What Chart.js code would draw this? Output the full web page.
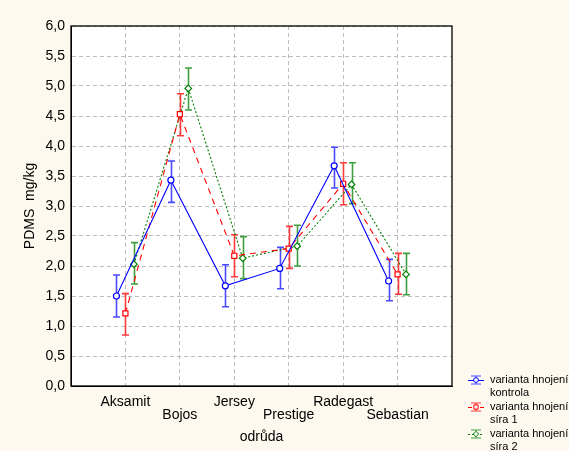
<!DOCTYPE html>
<html>
<head>
<meta charset="utf-8">
<script src="https://cdn.jsdelivr.net/npm/chart.js@4/dist/chart.umd.min.js"></script>
<style>
  html, body { margin: 0; padding: 0; background: #fdf9ee; }
  #wrap { width: 569px; height: 451px; }
</style>
</head>
<body>
<div id="wrap"><canvas id="chart" width="569" height="451"></canvas></div>
<script>
// Varieties (odrůda) on the x axis
const varieties = ['Aksamit', 'Bojos', 'Jersey', 'Prestige', 'Radegast', 'Sebastian'];

// Fertilisation variants
const seriesNames = ['varianta hnojení kontrola', 'varianta hnojení síra 1', 'varianta hnojení síra 2'];

// PDMS mg/kg – means with lower / upper interval bounds
const kontrolaMean = [1.50, 3.43, 1.67, 1.96, 3.67, 1.75];
const kontrolaLow  = [1.15, 3.06, 1.32, 1.62, 3.30, 1.42];
const kontrolaHigh = [1.85, 3.75, 2.02, 2.31, 3.98, 2.11];

const sira1Mean = [1.21, 4.53, 2.17, 2.29, 3.37, 1.86];
const sira1Low  = [0.85, 4.17, 1.82, 1.96, 3.02, 1.53];
const sira1High = [1.54, 4.87, 2.52, 2.66, 3.72, 2.21];

const sira2Mean = [2.03, 4.96, 2.13, 2.33, 3.36, 1.86];
const sira2Low  = [1.70, 4.60, 1.79, 2.00, 3.04, 1.52];
const sira2High = [2.39, 5.30, 2.49, 2.68, 3.72, 2.21];

// y axis ticks
const yMin = 0, yMax = 6, yStep = 0.5;

// horizontal shift of each variant around the category position
const shifts = [-0.165, 0, 0.155];

const FONT = '"Liberation Sans", Arial, sans-serif';

const styles = [
  { line: '#0000ff', bar: '#4a4aff', dash: [], point: 'circle', radius: 3 },
  { line: '#ff0000', bar: '#ff3a3a', dash: [6, 5], point: 'rect', radius: 3.6 },
  { line: '#008000', bar: '#3f9f3f', dash: [2, 2], point: 'rectRot', radius: 3.3 }
];

const means = [kontrolaMean, sira1Mean, sira2Mean];
const lows = [kontrolaLow, sira1Low, sira2Low];
const highs = [kontrolaHigh, sira1High, sira2High];

function toPoints(values, shift) {
  return values.map((v, i) => ({ x: i + 1 + shift, y: v }));
}

const datasets = means.map((m, k) => ({
  label: seriesNames[k],
  data: toPoints(m, shifts[k]),
  borderColor: styles[k].line,
  borderWidth: 1.1,
  borderDash: styles[k].dash,
  pointStyle: styles[k].point,
  pointRadius: styles[k].radius,
  pointBorderWidth: 1.2,
  pointBorderColor: styles[k].line,
  pointBackgroundColor: '#ffffff',
  fill: false,
  tension: 0
}));

// background, plot frame, error bars and legend
const decor = {
  id: 'decor',
  beforeDraw(chart) {
    const { ctx, chartArea: a } = chart;
    ctx.save();
    ctx.fillStyle = '#fdf9ee';
    ctx.fillRect(0, 0, chart.width, chart.height);
    ctx.fillStyle = '#ffffff';
    ctx.fillRect(a.left, a.top, a.right - a.left, a.bottom - a.top);
    ctx.restore();
  },
  beforeDatasetsDraw(chart) {
    const { ctx, scales: { x, y } } = chart;
    ctx.save();
    ctx.lineWidth = 1.6;
    ctx.setLineDash([]);
    for (let k = 0; k < means.length; k++) {
      ctx.strokeStyle = styles[k].bar;
      for (let i = 0; i < varieties.length; i++) {
        const px = Math.round(x.getPixelForValue(i + 1 + shifts[k])) + 0.5;
        const yLo = y.getPixelForValue(lows[k][i]);
        const yHi = y.getPixelForValue(highs[k][i]);
        ctx.beginPath();
        ctx.moveTo(px, yLo); ctx.lineTo(px, yHi);
        ctx.moveTo(px - 3.5, yLo); ctx.lineTo(px + 3.5, yLo);
        ctx.moveTo(px - 3.5, yHi); ctx.lineTo(px + 3.5, yHi);
        ctx.stroke();
      }
    }
    ctx.restore();
  },
  afterDraw(chart) {
    const { ctx, chartArea: a } = chart;
    ctx.save();
    ctx.strokeStyle = '#000000';
    ctx.lineWidth = 1.3;
    ctx.setLineDash([]);
    ctx.strokeRect(a.left, a.top, a.right - a.left, a.bottom - a.top);

    // legend
    const lx = 468, lw = 16, tx = 490;
    const rows = [380, 407, 434];
    const sub = ['kontrola', 'síra 1', 'síra 2'];
    ctx.font = '11px ' + FONT;
    ctx.textBaseline = 'middle';
    ctx.textAlign = 'left';
    for (let k = 0; k < 3; k++) {
      const cy = rows[k];
      const cx = lx + lw / 2;
      ctx.strokeStyle = styles[k].line;
      ctx.lineWidth = 1;
      ctx.setLineDash(styles[k].dash.length ? (k === 1 ? [4, 2] : [2, 2]) : []);
      ctx.beginPath(); ctx.moveTo(lx, cy + 0.5); ctx.lineTo(lx + lw, cy + 0.5); ctx.stroke();
      ctx.setLineDash([]);
      ctx.strokeStyle = styles[k].bar;
      ctx.beginPath();
      ctx.moveTo(cx, cy - 4); ctx.lineTo(cx, cy + 4);
      ctx.moveTo(cx - 5, cy - 4); ctx.lineTo(cx + 5, cy - 4);
      ctx.moveTo(cx - 5, cy + 4); ctx.lineTo(cx + 5, cy + 4);
      ctx.stroke();
      ctx.fillStyle = '#ffffff';
      ctx.strokeStyle = styles[k].line;
      ctx.lineWidth = 1;
      Chart.helpers.drawPoint(ctx, {
        pointStyle: styles[k].point,
        radius: styles[k].radius - 0.6,
        borderWidth: 1
      }, cx, cy);
      ctx.fillStyle = '#000000';
      ctx.fillText('varianta hnojení', tx, cy);
      ctx.fillText(sub[k], tx, cy + 12.5);
    }
    ctx.restore();
  }
};

new Chart(document.getElementById('chart'), {
  type: 'line',
  data: { datasets },
  options: {
    responsive: false,
    animation: false,
    devicePixelRatio: 1,
    layout: { padding: { top: 26, right: 117, left: 0, bottom: 0 } },
    plugins: { legend: { display: false }, tooltip: { enabled: false } },
    scales: {
      x: {
        type: 'linear',
        min: 0,
        max: varieties.length + 1,
        afterBuildTicks(scale) {
          const t = [];
          for (let v = 0; v <= varieties.length + 1; v++) t.push({ value: v });
          scale.ticks = t;
        },
        afterFit(scale) { scale.height = 65; },
        grid: {
          drawTicks: false,
          color: c => (c.tick && (c.tick.value === 0 || c.tick.value === varieties.length + 1)) ? 'rgba(0,0,0,0)' : '#bdbdbd',
          lineWidth: 1
        },
        border: { display: true, color: '#000000', width: 1, dash: [4, 3] },
        ticks: {
          padding: 10,
          maxRotation: 0,
          autoSkip: false,
          color: '#000000',
          font: { family: FONT, size: 14, lineHeight: 13 / 14 },
          callback(v) {
            const i = Math.round(v) - 1;
            if (i < 0 || i >= varieties.length) return '';
            return i % 2 === 0 ? [varieties[i], ''] : ['', varieties[i]];
          }
        },
        title: {
          display: true,
          text: 'odrůda',
          color: '#000000',
          font: { family: FONT, size: 14 },
          padding: { top: 0, bottom: 5 }
        }
      },
      y: {
        min: yMin,
        max: yMax,
        afterFit(scale) { scale.width = 71; },
        grid: { drawTicks: false, color: '#bdbdbd', lineWidth: 1 },
        border: { display: true, color: '#000000', width: 1, dash: [4, 3] },
        ticks: {
          stepSize: yStep,
          padding: 6,
          color: '#000000',
          font: { family: FONT, size: 14 },
          callback: v => v.toFixed(1).replace('.', ',')
        },
        title: {
          display: true,
          text: 'PDMS  mg/kg',
          color: '#000000',
          font: { family: FONT, size: 14 },
          padding: { top: 22, bottom: 0 }
        }
      }
    }
  },
  plugins: [decor]
});
</script>
</body>
</html>
